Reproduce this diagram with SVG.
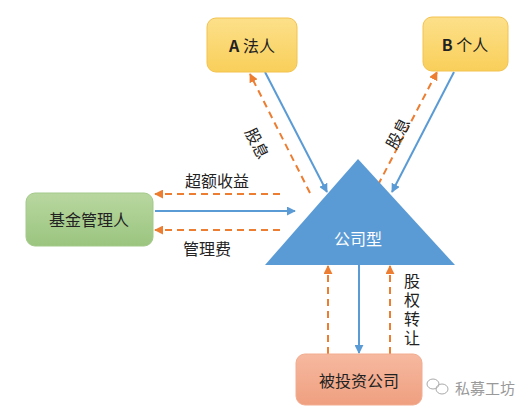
<svg xmlns="http://www.w3.org/2000/svg" width="524" height="413" viewBox="0 0 524 413">
<defs>
<linearGradient id="gy" x1="0" y1="0" x2="0" y2="1"><stop offset="0" stop-color="#fce08a"/><stop offset="1" stop-color="#f9cf5a"/></linearGradient>
<linearGradient id="gg" x1="0" y1="0" x2="0" y2="1"><stop offset="0" stop-color="#b8d7a0"/><stop offset="1" stop-color="#9bc57f"/></linearGradient>
<linearGradient id="gs" x1="0" y1="0" x2="0" y2="1"><stop offset="0" stop-color="#f6b9a0"/><stop offset="1" stop-color="#ef9f80"/></linearGradient>
<marker id="ab" viewBox="0 0 10 10" refX="9" refY="5" markerWidth="9" markerHeight="9" orient="auto" markerUnits="userSpaceOnUse"><path d="M0,0 L10,5 L0,10 Z" fill="#5b9bd5"/></marker>
<marker id="ao" viewBox="0 0 10 10" refX="9" refY="5" markerWidth="9" markerHeight="9" orient="auto" markerUnits="userSpaceOnUse"><path d="M0,0 L10,5 L0,10 Z" fill="#ed7d31"/></marker>
<style>
text{font-family:"Noto Sans CJK SC","Liberation Sans",sans-serif;font-size:16px;fill:#222;}
.sb{stroke:#5b9bd5;stroke-width:2;fill:none;}
.so{stroke:#ed7d31;stroke-width:2;fill:none;stroke-dasharray:7,5;}
.c{text-anchor:middle;dominant-baseline:central;}
.v{writing-mode:vertical-rl;letter-spacing:3px;}
</style>
</defs>
<rect width="524" height="413" fill="#fff"/>
<g id="connectors">
<line class="sb" x1="265" y1="72" x2="327" y2="192" marker-end="url(#ab)"/>
<line class="so" x1="310" y1="193" x2="250" y2="74" marker-end="url(#ao)"/>
<line class="sb" x1="454" y1="72" x2="392" y2="192" marker-end="url(#ab)"/>
<line class="so" x1="378" y1="185" x2="437" y2="72" marker-end="url(#ao)"/>
<line class="sb" x1="155" y1="211" x2="295" y2="211" marker-end="url(#ab)"/>
<line class="so" x1="280" y1="194" x2="155" y2="194" marker-end="url(#ao)"/>
<line class="so" x1="280" y1="230" x2="155" y2="230" marker-end="url(#ao)"/>
<line class="so" x1="328" y1="354" x2="328" y2="266" marker-end="url(#ao)"/>
<line class="sb" x1="359" y1="265" x2="359" y2="353" marker-end="url(#ab)"/>
<line class="so" x1="390" y1="354" x2="390" y2="266" marker-end="url(#ao)"/>
<text class="c" transform="translate(258,143) rotate(63.5)">股息</text>
<text class="c" transform="translate(397,133) rotate(-62)">股息</text>
<text class="c" x="217" y="180">超额收益</text>
<text class="c" x="207" y="248">管理费</text>
<text class="v" x="412" y="273">股权转让</text>
</g>
<g id="node-a">
<rect x="207" y="18" width="90" height="54" rx="9" fill="url(#gy)" stroke="#f3c24e" stroke-width="1"/>
<text class="c" x="252" y="45"><tspan font-weight="bold">A</tspan> 法人</text>
</g>
<g id="node-b">
<rect x="423" y="17" width="85" height="54" rx="9" fill="url(#gy)" stroke="#f3c24e" stroke-width="1"/>
<text class="c" x="465" y="44"><tspan font-weight="bold">B</tspan> 个人</text>
</g>
<g id="node-fund">
<rect x="26" y="193" width="127" height="53" rx="9" fill="url(#gg)" stroke="#a3c98a" stroke-width="1"/>
<text class="c" x="89" y="219">基金管理人</text>
</g>
<g id="node-company">
<polygon points="358,159 455,265 265,265" fill="#5b9bd5"/>
<text class="c" x="358" y="238" style="fill:#fff">公司型</text>
</g>
<g id="node-invested">
<rect x="296" y="354" width="126" height="51" rx="9" fill="url(#gs)" stroke="#f2ac90" stroke-width="1"/>
<text class="c" x="359" y="380">被投资公司</text>
</g>
<g id="watermark">
<ellipse cx="433" cy="384" rx="6" ry="5" fill="none" stroke="#aaa" stroke-width="1"/>
<ellipse cx="442" cy="389" rx="6" ry="5" fill="none" stroke="#aaa" stroke-width="1"/>
<text x="455" y="394" style="fill:#999;font-size:15px">私募工坊</text>
</g>
</svg>
